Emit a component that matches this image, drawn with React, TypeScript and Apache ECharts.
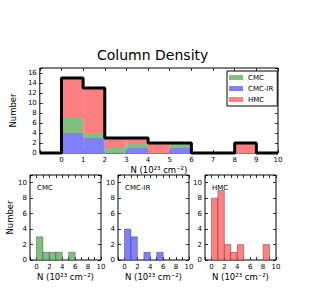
import React, { useEffect, useRef } from "react";
import * as echarts from "echarts";

const binStarts = [0, 1, 2, 3, 4, 5, 6, 7, 8, 9];
const cmc = [3, 1, 1, 1, 0, 1, 0, 0, 0, 0];
const cmcIR = [4, 3, 0, 1, 0, 1, 0, 0, 0, 0];
const hmc = [8, 9, 2, 1, 2, 0, 0, 0, 2, 0];
const xTickLabels = ["0", "1", "2", "3", "4", "5", "6", "7", "8", "9", "10"];
const seriesNames = ["CMC", "CMC-IR", "HMC"];
const colors = { CMC: "#80bf80", "CMC-IR": "#8080ff", HMC: "#ff8080" };

const FONT = "DejaVu Sans";
const xName = "N (10\u00B2\u00B3 cm\u207B\u00B2)";

function rectRender(fill: string, stroke?: string) {
  return (params: any, api: any) => {
    const p0 = api.coord([api.value(0), api.value(3)]);
    const p1 = api.coord([api.value(1), api.value(2)]);
    return {
      type: "rect",
      shape: { x: p0[0], y: p0[1], width: p1[0] - p0[0], height: p1[1] - p0[1] },
      style: stroke ? { fill, stroke, lineWidth: 1 } : { fill },
    };
  };
}

export default function App() {
  const ref = useRef<HTMLDivElement>(null);
  useEffect(() => {
    if (!ref.current) return;
    const chart = echarts.init(ref.current, null, { renderer: "svg" });

    const stackOrder: [string, number[]][] = [
      ["CMC-IR", cmcIR],
      ["CMC", cmc],
      ["HMC", hmc],
    ];
    const base = binStarts.map(() => 0);
    const stackedSeries: any[] = [];
    stackOrder.forEach(([name, arr]) => {
      const data: number[][] = [];
      binStarts.forEach((b, i) => {
        if (arr[i] > 0) data.push([b, b + 1, base[i], base[i] + arr[i]]);
        base[i] += arr[i];
      });
      stackedSeries.push({
        type: "custom",
        name,
        xAxisIndex: 0,
        yAxisIndex: 0,
        itemStyle: { color: (colors as any)[name] },
        renderItem: rectRender((colors as any)[name]),
        encode: { x: [0, 1], y: [2, 3] },
        data,
        z: 2,
      });
    });
    const totals = binStarts.map((_, i) => cmc[i] + cmcIR[i] + hmc[i]);
    const stepData: number[][] = [[-1, 0]];
    binStarts.forEach((b, i) => stepData.push([b, totals[i]]));
    stepData.push([10, 0]);

    const panelData: [string, number[]][] = [
      ["CMC", cmc],
      ["CMC-IR", cmcIR],
      ["HMC", hmc],
    ];

    const topGrid = { left: 30, top: 68, width: 248, height: 85 };
    const panelLefts = [30, 118, 205];
    const grids: any[] = [topGrid, ...panelLefts.map((l) => ({ left: l, top: 175, width: 71, height: 85 }))];
    grids.forEach((g) => {
      g.show = true;
      g.borderColor = "#000";
      g.borderWidth = 1;
      g.backgroundColor = "#fff";
      g.containLabel = false;
    });

    const labelStyle = { color: "#000", fontFamily: FONT, fontSize: 7 };
    const tick = { show: true, inside: true, length: 3, lineStyle: { color: "#000", width: 0.8 } };
    const noLine = { show: false, onZero: false };

    const xAxes: any[] = [];
    const yAxes: any[] = [];
    grids.forEach((_, gi) => {
      const isTop = gi === 0;
      xAxes.push({
        type: "value",
        gridIndex: gi,
        min: -1,
        max: 10,
        interval: 1,
        position: "bottom",
        axisLine: noLine,
        axisTick: tick,
        splitLine: { show: false },
        axisLabel: {
          ...labelStyle,
          margin: 3,
          formatter: (v: number) => {
            if (v < 0) return "";
            if (!isTop && v % 2 !== 0) return "";
            return xTickLabels[v] ?? "";
          },
        },
        name: xName,
        nameLocation: "middle",
        nameGap: 12,
        nameTextStyle: { color: "#000", fontFamily: FONT, fontSize: 8.5, verticalAlign: "top" },
      });
      xAxes.push({
        type: "value",
        gridIndex: gi,
        min: -1,
        max: 10,
        interval: 1,
        position: "top",
        axisLine: noLine,
        axisTick: tick,
        splitLine: { show: false },
        axisLabel: { show: false },
      });
      const ymax = isTop ? 17 : 11;
      yAxes.push({
        type: "value",
        gridIndex: gi,
        min: 0,
        max: ymax,
        interval: 2,
        position: "left",
        axisLine: noLine,
        axisTick: tick,
        splitLine: { show: false },
        axisLabel: {
          ...labelStyle,
          margin: 3,
          formatter: (v: number) => (v >= ymax ? "" : String(v)),
        },
        name: gi <= 1 ? "Number" : "",
        nameLocation: "middle",
        nameRotate: 90,
        nameGap: 5,
        nameTextStyle: { color: "#000", fontFamily: FONT, fontSize: 8.5 },
      });
      yAxes.push({
        type: "value",
        gridIndex: gi,
        min: 0,
        max: ymax,
        interval: 2,
        position: "right",
        axisLine: noLine,
        axisTick: tick,
        splitLine: { show: false },
        axisLabel: { show: false },
      });
    });

    const panelSeries = panelData.map(([name, arr], pi) => ({
      type: "custom",
      name: name + " ",
      xAxisIndex: 2 + pi * 2,
      yAxisIndex: 2 + pi * 2,
      renderItem: rectRender((colors as any)[name], "rgba(0,0,0,0.3)"),
      encode: { x: [0, 1], y: [2, 3] },
      data: binStarts.filter((_, i) => arr[i] > 0).map((b) => [b, b + 1, 0, arr[b]]),
    }));

    const panelLabelPos = [
      [37, 184],
      [125, 184],
      [212, 184],
    ];

    chart.setOption({
      animation: false,
      backgroundColor: "#fff",
      title: {
        text: "Column Density",
        left: 97,
        top: 48,
        padding: 0,
        textStyle: { fontFamily: FONT, fontSize: 14, fontWeight: "normal", color: "#000" },
      },
      legend: {
        data: seriesNames,
        orient: "vertical",
        left: 227,
        top: 71,
        itemWidth: 14,
        itemHeight: 5,
        itemGap: 4,
        padding: [3, 4, 3, 2],
        borderColor: "#000",
        borderWidth: 1,
        backgroundColor: "#fff",
        textStyle: { fontFamily: FONT, fontSize: 7, color: "#000" },
        icon: "rect",
        selectedMode: false,
      },
      grid: grids,
      xAxis: xAxes,
      yAxis: yAxes,
      graphic: panelData.map(([name], pi) => ({
        type: "text",
        x: panelLabelPos[pi][0],
        y: panelLabelPos[pi][1],
        z: 10,
        style: { text: name, fontFamily: FONT, fontSize: 7, fill: "#000" },
      })),
      series: [
        ...stackedSeries,
        {
          type: "line",
          name: "total",
          xAxisIndex: 0,
          yAxisIndex: 0,
          step: "end",
          data: stepData,
          showSymbol: false,
          symbol: "none",
          clip: false,
          lineStyle: { color: "#000", width: 3 },
          z: 5,
        },
        ...panelSeries,
      ],
    });
    return () => chart.dispose();
  }, []);
  return <div ref={ref} style={{ position: "fixed", left: 0, top: 0, width: 311, height: 301 }} />;
}
